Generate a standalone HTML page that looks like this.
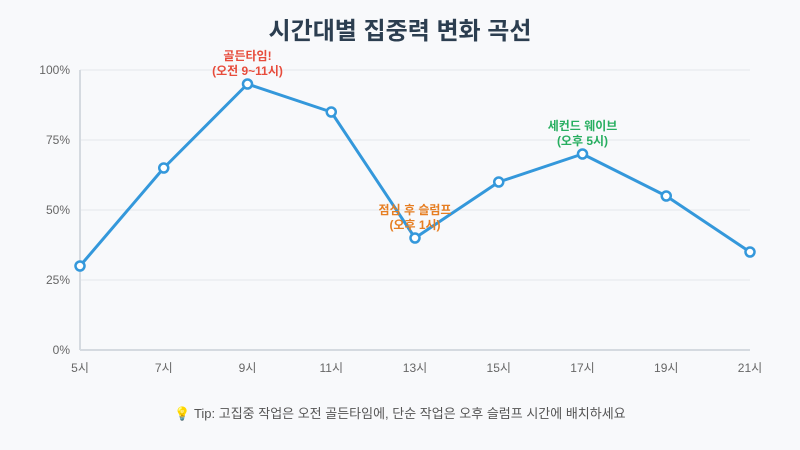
<!DOCTYPE html>
<html><head><meta charset="utf-8"><style>
body{margin:0;background:#f8f9fb;}
svg{display:block;font-family:"Liberation Sans","Noto Sans CJK KR",sans-serif;}
</style></head><body>
<svg id="c" width="800" height="450">
<rect width="800" height="450" fill="#f8f9fb"/>
<text x="400" y="39" text-anchor="middle" font-size="24" font-weight="bold" fill="#2c3e50">시간대별 집중력 변화 곡선</text>
<g id="grid"></g><g id="axes"></g><g id="series"></g><g id="ann"></g>
<text x="400" y="418" text-anchor="middle" font-size="13" fill="#555">💡 Tip: 고집중 작업은 오전 골든타임에, 단순 작업은 오후 슬럼프 시간에 배치하세요</text>
</svg>
<script>
const categories=["5시","7시","9시","11시","13시","15시","17시","19시","21시"];
const focusValues=[30,65,95,85,40,60,70,55,35];
const yTicks=[0,25,50,75,100];
const annotations=[
 {i:2,lines:["골든타임!","(오전 9~11시)"],color:"#e74c3c"},
 {i:4,lines:["점심 후 슬럼프","(오후 1시)"],color:"#e67e22"},
 {i:6,lines:["세컨드 웨이브","(오후 5시)"],color:"#27ae60"}];
const NS="http://www.w3.org/2000/svg";
const x=i=>80+i*(670/(categories.length-1));
const y=v=>350-v*2.8;
function mk(t,a,p){const e=document.createElementNS(NS,t);for(const k in a)e.setAttribute(k,a[k]);p.appendChild(e);return e;}
const grid=document.getElementById('grid'),axes=document.getElementById('axes'),ser=document.getElementById('series'),ann=document.getElementById('ann');
yTicks.forEach(t=>{
 if(t>0){const l=mk('line',{x1:80,x2:750,y1:y(t),y2:y(t),stroke:'#eef0f3','stroke-width':2},grid);
 
 }
 const tx=mk('text',{x:70,y:y(t)+4,'text-anchor':'end','font-size':12,fill:'#666'},axes);tx.textContent=t+'%';
 
 
});
const ya=mk('line',{x1:80,x2:80,y1:70,y2:350,stroke:'#d5dae0','stroke-width':2},axes);


const xa=mk('line',{x1:80,x2:750,y1:350,y2:350,stroke:'#d5dae0','stroke-width':2},axes);


categories.forEach((c,i)=>{
 const tx=mk('text',{x:x(i),y:372,'text-anchor':'middle','font-size':12,fill:'#666'},axes);tx.textContent=c;
 
 
});
const pl=mk('polyline',{points:focusValues.map((v,i)=>x(i)+','+y(v)).join(' '),fill:'none',stroke:'#3498db','stroke-width':3,'stroke-linejoin':'round'},ser);


focusValues.forEach((v,i)=>{
 const p=mk('circle',{cx:x(i),cy:y(v),r:4.5,fill:'#fff',stroke:'#3498db','stroke-width':2.5},ser);
 
 
});
annotations.forEach(a=>{
 const cx=x(a.i),cy=y(focusValues[a.i]);
 a.lines.forEach((s,k)=>{
  const t=mk('text',{x:cx,y:cy-24+k*15,'text-anchor':'middle','font-size':12,'font-weight':'bold',fill:a.color},ann);t.textContent=s;
  
  
 });
});
</script>
</body></html>
